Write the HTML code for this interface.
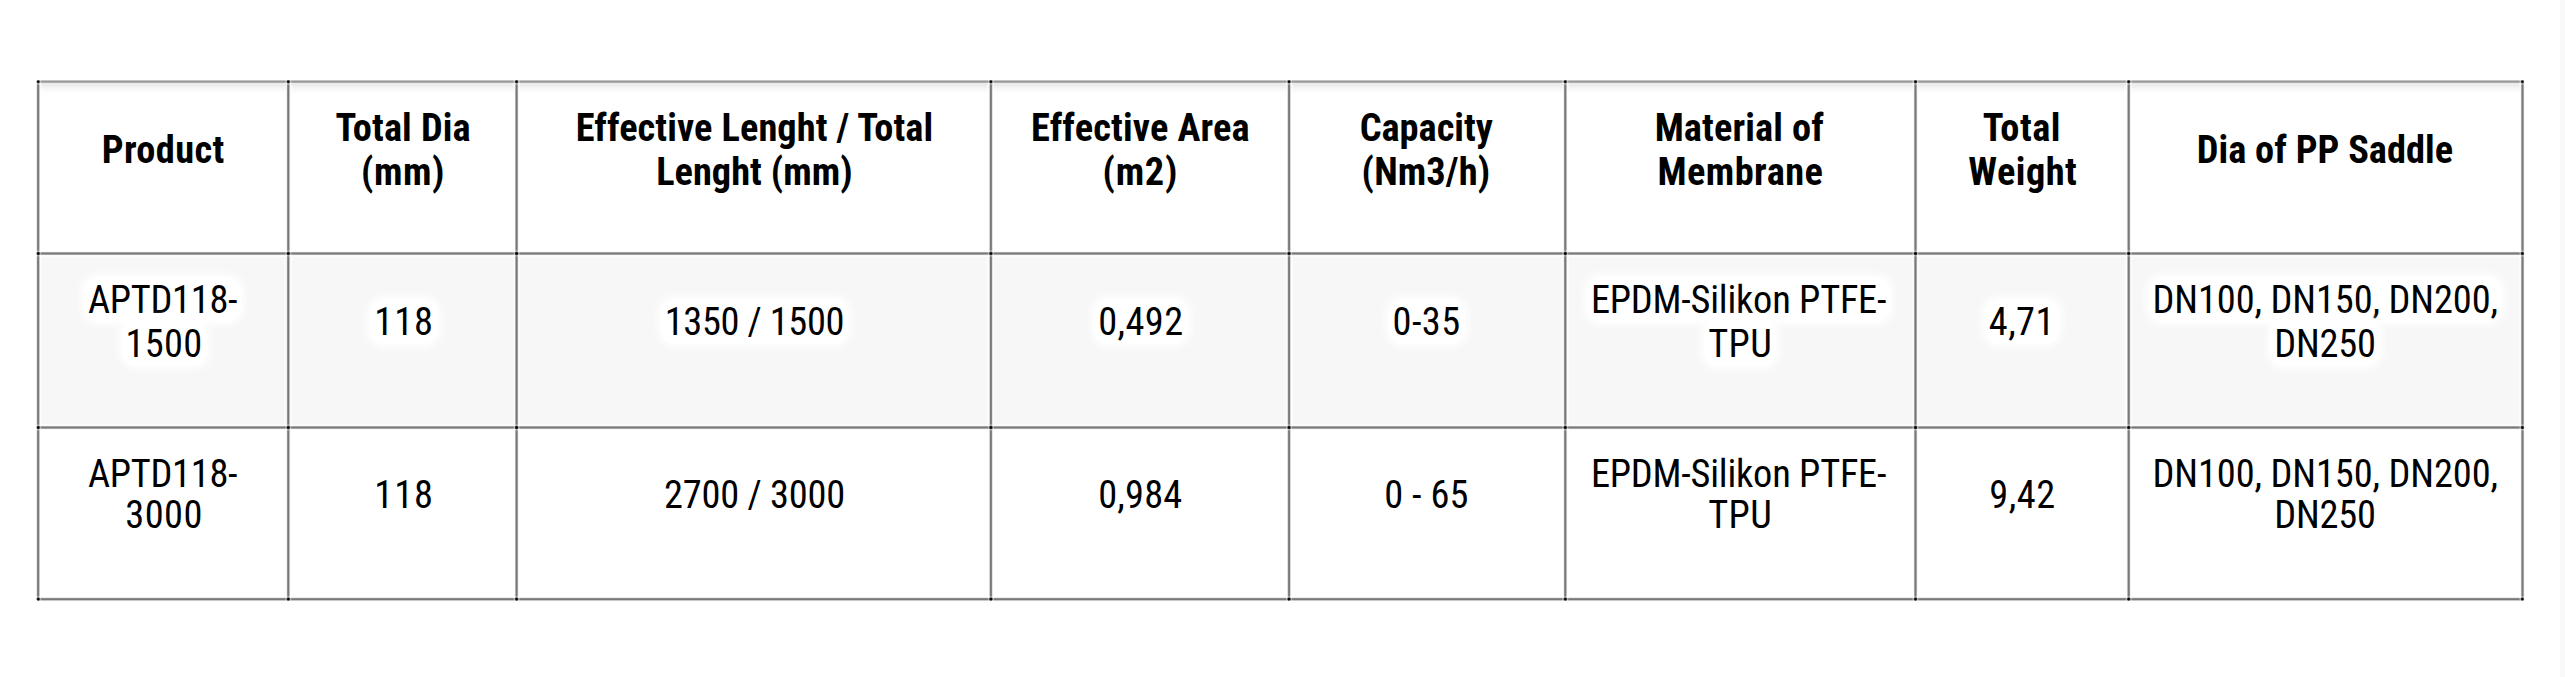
<!DOCTYPE html>
<html><head><meta charset="utf-8"><title>Product table</title>
<style>
html,body{margin:0;padding:0;background:#fff;}
body{width:2565px;height:677px;position:relative;overflow:hidden;font-family:"Roboto Condensed","Liberation Sans",sans-serif;color:#000;}
.strip{position:absolute;left:2560px;top:0;width:5px;height:677px;background:#f9f9f9;}
.bg1{position:absolute;background:#f7f7f7;box-shadow:inset 0 0 2px 1.5px #fff;}
.hsh{position:absolute;filter:blur(0.8px);background:linear-gradient(to bottom,#e6e6e6 0,#efefef 3px,#f8f8f8 6px,#fdfdfd 9px,rgba(255,255,255,0) 12px);}
.v,.h{position:absolute;}
.dot{position:absolute;width:9px;height:9px;}
.c{position:absolute;text-align:center;white-space:nowrap;font-size:38.4px;}
.c span{position:relative;}
.th{font-weight:700;line-height:44px;}
.td{font-weight:400;}
.r1{line-height:44px;}
.r2{line-height:41px;}
.nf .c{font-family:"Liberation Sans","DejaVu Sans",sans-serif;}
.nf .c span{display:inline-block;transform:scaleX(.87);}
.r1 span{background:#fff;padding:0 4px;margin:0 -4px;border-radius:14px;box-shadow:0 0 9px 3px #fff;}
</style></head><body>
<div class="strip"></div>

<div class="bg1" style="left:39.65px;top:255.00px;width:247.15px;height:171.00px"></div>
<div class="bg1" style="left:289.80px;top:255.00px;width:225.30px;height:171.00px"></div>
<div class="bg1" style="left:518.10px;top:255.00px;width:471.30px;height:171.00px"></div>
<div class="bg1" style="left:992.40px;top:255.00px;width:295.15px;height:171.00px"></div>
<div class="bg1" style="left:1290.55px;top:255.00px;width:273.25px;height:171.00px"></div>
<div class="bg1" style="left:1566.80px;top:255.00px;width:347.20px;height:171.00px"></div>
<div class="bg1" style="left:1917.00px;top:255.00px;width:210.20px;height:171.00px"></div>
<div class="bg1" style="left:2130.20px;top:255.00px;width:390.80px;height:171.00px"></div>
<div class="hsh" style="left:40.65px;top:83.10px;width:245.15px;height:12px"></div>
<div class="hsh" style="left:290.80px;top:83.10px;width:223.30px;height:12px"></div>
<div class="hsh" style="left:519.10px;top:83.10px;width:469.30px;height:12px"></div>
<div class="hsh" style="left:993.40px;top:83.10px;width:293.15px;height:12px"></div>
<div class="hsh" style="left:1291.55px;top:83.10px;width:271.25px;height:12px"></div>
<div class="hsh" style="left:1567.80px;top:83.10px;width:345.20px;height:12px"></div>
<div class="hsh" style="left:1918.00px;top:83.10px;width:208.20px;height:12px"></div>
<div class="hsh" style="left:2131.20px;top:83.10px;width:388.80px;height:12px"></div>
<div class="v" style="left:35px;top:81.6px;width:7px;height:517.6px;background:linear-gradient(to right,rgba(0,0,0,0.000) 0.00px,rgba(0,0,0,0.000) 0.25px,rgba(0,0,0,0.000) 0.50px,rgba(0,0,0,0.002) 0.75px,rgba(0,0,0,0.009) 1.00px,rgba(0,0,0,0.033) 1.25px,rgba(0,0,0,0.085) 1.50px,rgba(0,0,0,0.174) 1.75px,rgba(0,0,0,0.286) 2.00px,rgba(0,0,0,0.394) 2.25px,rgba(0,0,0,0.474) 2.50px,rgba(0,0,0,0.516) 2.75px,rgba(0,0,0,0.529) 3.00px,rgba(0,0,0,0.530) 3.25px,rgba(0,0,0,0.521) 3.50px,rgba(0,0,0,0.485) 3.75px,rgba(0,0,0,0.413) 4.00px,rgba(0,0,0,0.309) 4.25px,rgba(0,0,0,0.195) 4.50px,rgba(0,0,0,0.100) 4.75px,rgba(0,0,0,0.040) 5.00px,rgba(0,0,0,0.012) 5.25px,rgba(0,0,0,0.003) 5.50px,rgba(0,0,0,0.000) 5.75px,rgba(0,0,0,0.000) 6.00px,rgba(0,0,0,0.000) 6.25px,rgba(0,0,0,0.000) 6.50px,rgba(0,0,0,0.000) 6.75px,rgba(0,0,0,0.000) 7.00px)"></div>
<div class="v" style="left:285px;top:81.6px;width:7px;height:517.6px;background:linear-gradient(to right,rgba(0,0,0,0.000) 0.00px,rgba(0,0,0,0.000) 0.25px,rgba(0,0,0,0.000) 0.50px,rgba(0,0,0,0.001) 0.75px,rgba(0,0,0,0.004) 1.00px,rgba(0,0,0,0.016) 1.25px,rgba(0,0,0,0.050) 1.50px,rgba(0,0,0,0.117) 1.75px,rgba(0,0,0,0.217) 2.00px,rgba(0,0,0,0.331) 2.25px,rgba(0,0,0,0.430) 2.50px,rgba(0,0,0,0.495) 2.75px,rgba(0,0,0,0.524) 3.00px,rgba(0,0,0,0.530) 3.25px,rgba(0,0,0,0.528) 3.50px,rgba(0,0,0,0.511) 3.75px,rgba(0,0,0,0.461) 4.00px,rgba(0,0,0,0.374) 4.25px,rgba(0,0,0,0.263) 4.50px,rgba(0,0,0,0.154) 4.75px,rgba(0,0,0,0.072) 5.00px,rgba(0,0,0,0.026) 5.25px,rgba(0,0,0,0.007) 5.50px,rgba(0,0,0,0.001) 5.75px,rgba(0,0,0,0.000) 6.00px,rgba(0,0,0,0.000) 6.25px,rgba(0,0,0,0.000) 6.50px,rgba(0,0,0,0.000) 6.75px,rgba(0,0,0,0.000) 7.00px)"></div>
<div class="v" style="left:513px;top:81.6px;width:7px;height:517.6px;background:linear-gradient(to right,rgba(0,0,0,0.000) 0.00px,rgba(0,0,0,0.000) 0.25px,rgba(0,0,0,0.000) 0.50px,rgba(0,0,0,0.000) 0.75px,rgba(0,0,0,0.000) 1.00px,rgba(0,0,0,0.003) 1.25px,rgba(0,0,0,0.012) 1.50px,rgba(0,0,0,0.040) 1.75px,rgba(0,0,0,0.100) 2.00px,rgba(0,0,0,0.195) 2.25px,rgba(0,0,0,0.309) 2.50px,rgba(0,0,0,0.413) 2.75px,rgba(0,0,0,0.485) 3.00px,rgba(0,0,0,0.521) 3.25px,rgba(0,0,0,0.530) 3.50px,rgba(0,0,0,0.529) 3.75px,rgba(0,0,0,0.516) 4.00px,rgba(0,0,0,0.474) 4.25px,rgba(0,0,0,0.394) 4.50px,rgba(0,0,0,0.286) 4.75px,rgba(0,0,0,0.174) 5.00px,rgba(0,0,0,0.085) 5.25px,rgba(0,0,0,0.033) 5.50px,rgba(0,0,0,0.009) 5.75px,rgba(0,0,0,0.002) 6.00px,rgba(0,0,0,0.000) 6.25px,rgba(0,0,0,0.000) 6.50px,rgba(0,0,0,0.000) 6.75px,rgba(0,0,0,0.000) 7.00px)"></div>
<div class="v" style="left:987px;top:81.6px;width:7px;height:517.6px;background:linear-gradient(to right,rgba(0,0,0,0.000) 0.00px,rgba(0,0,0,0.000) 0.25px,rgba(0,0,0,0.000) 0.50px,rgba(0,0,0,0.000) 0.75px,rgba(0,0,0,0.000) 1.00px,rgba(0,0,0,0.000) 1.25px,rgba(0,0,0,0.002) 1.50px,rgba(0,0,0,0.009) 1.75px,rgba(0,0,0,0.033) 2.00px,rgba(0,0,0,0.085) 2.25px,rgba(0,0,0,0.174) 2.50px,rgba(0,0,0,0.286) 2.75px,rgba(0,0,0,0.394) 3.00px,rgba(0,0,0,0.474) 3.25px,rgba(0,0,0,0.516) 3.50px,rgba(0,0,0,0.529) 3.75px,rgba(0,0,0,0.530) 4.00px,rgba(0,0,0,0.521) 4.25px,rgba(0,0,0,0.485) 4.50px,rgba(0,0,0,0.413) 4.75px,rgba(0,0,0,0.309) 5.00px,rgba(0,0,0,0.195) 5.25px,rgba(0,0,0,0.100) 5.50px,rgba(0,0,0,0.040) 5.75px,rgba(0,0,0,0.012) 6.00px,rgba(0,0,0,0.003) 6.25px,rgba(0,0,0,0.000) 6.50px,rgba(0,0,0,0.000) 6.75px,rgba(0,0,0,0.000) 7.00px)"></div>
<div class="v" style="left:1286px;top:81.6px;width:7px;height:517.6px;background:linear-gradient(to right,rgba(0,0,0,0.000) 0.00px,rgba(0,0,0,0.000) 0.25px,rgba(0,0,0,0.001) 0.50px,rgba(0,0,0,0.004) 0.75px,rgba(0,0,0,0.016) 1.00px,rgba(0,0,0,0.050) 1.25px,rgba(0,0,0,0.117) 1.50px,rgba(0,0,0,0.217) 1.75px,rgba(0,0,0,0.331) 2.00px,rgba(0,0,0,0.430) 2.25px,rgba(0,0,0,0.495) 2.50px,rgba(0,0,0,0.524) 2.75px,rgba(0,0,0,0.530) 3.00px,rgba(0,0,0,0.528) 3.25px,rgba(0,0,0,0.511) 3.50px,rgba(0,0,0,0.461) 3.75px,rgba(0,0,0,0.374) 4.00px,rgba(0,0,0,0.263) 4.25px,rgba(0,0,0,0.154) 4.50px,rgba(0,0,0,0.072) 4.75px,rgba(0,0,0,0.026) 5.00px,rgba(0,0,0,0.007) 5.25px,rgba(0,0,0,0.001) 5.50px,rgba(0,0,0,0.000) 5.75px,rgba(0,0,0,0.000) 6.00px,rgba(0,0,0,0.000) 6.25px,rgba(0,0,0,0.000) 6.50px,rgba(0,0,0,0.000) 6.75px,rgba(0,0,0,0.000) 7.00px)"></div>
<div class="v" style="left:1562px;top:81.6px;width:7px;height:517.6px;background:linear-gradient(to right,rgba(0,0,0,0.000) 0.00px,rgba(0,0,0,0.000) 0.25px,rgba(0,0,0,0.000) 0.50px,rgba(0,0,0,0.001) 0.75px,rgba(0,0,0,0.004) 1.00px,rgba(0,0,0,0.016) 1.25px,rgba(0,0,0,0.050) 1.50px,rgba(0,0,0,0.117) 1.75px,rgba(0,0,0,0.217) 2.00px,rgba(0,0,0,0.331) 2.25px,rgba(0,0,0,0.430) 2.50px,rgba(0,0,0,0.495) 2.75px,rgba(0,0,0,0.524) 3.00px,rgba(0,0,0,0.530) 3.25px,rgba(0,0,0,0.528) 3.50px,rgba(0,0,0,0.511) 3.75px,rgba(0,0,0,0.461) 4.00px,rgba(0,0,0,0.374) 4.25px,rgba(0,0,0,0.263) 4.50px,rgba(0,0,0,0.154) 4.75px,rgba(0,0,0,0.072) 5.00px,rgba(0,0,0,0.026) 5.25px,rgba(0,0,0,0.007) 5.50px,rgba(0,0,0,0.001) 5.75px,rgba(0,0,0,0.000) 6.00px,rgba(0,0,0,0.000) 6.25px,rgba(0,0,0,0.000) 6.50px,rgba(0,0,0,0.000) 6.75px,rgba(0,0,0,0.000) 7.00px)"></div>
<div class="v" style="left:1912px;top:81.6px;width:7px;height:517.6px;background:linear-gradient(to right,rgba(0,0,0,0.000) 0.00px,rgba(0,0,0,0.000) 0.25px,rgba(0,0,0,0.000) 0.50px,rgba(0,0,0,0.000) 0.75px,rgba(0,0,0,0.001) 1.00px,rgba(0,0,0,0.005) 1.25px,rgba(0,0,0,0.021) 1.50px,rgba(0,0,0,0.060) 1.75px,rgba(0,0,0,0.134) 2.00px,rgba(0,0,0,0.240) 2.25px,rgba(0,0,0,0.353) 2.50px,rgba(0,0,0,0.446) 2.75px,rgba(0,0,0,0.504) 3.00px,rgba(0,0,0,0.527) 3.25px,rgba(0,0,0,0.530) 3.50px,rgba(0,0,0,0.527) 3.75px,rgba(0,0,0,0.504) 4.00px,rgba(0,0,0,0.446) 4.25px,rgba(0,0,0,0.353) 4.50px,rgba(0,0,0,0.240) 4.75px,rgba(0,0,0,0.134) 5.00px,rgba(0,0,0,0.060) 5.25px,rgba(0,0,0,0.021) 5.50px,rgba(0,0,0,0.005) 5.75px,rgba(0,0,0,0.001) 6.00px,rgba(0,0,0,0.000) 6.25px,rgba(0,0,0,0.000) 6.50px,rgba(0,0,0,0.000) 6.75px,rgba(0,0,0,0.000) 7.00px)"></div>
<div class="v" style="left:2125px;top:81.6px;width:7px;height:517.6px;background:linear-gradient(to right,rgba(0,0,0,0.000) 0.00px,rgba(0,0,0,0.000) 0.25px,rgba(0,0,0,0.000) 0.50px,rgba(0,0,0,0.000) 0.75px,rgba(0,0,0,0.000) 1.00px,rgba(0,0,0,0.001) 1.25px,rgba(0,0,0,0.007) 1.50px,rgba(0,0,0,0.026) 1.75px,rgba(0,0,0,0.072) 2.00px,rgba(0,0,0,0.154) 2.25px,rgba(0,0,0,0.263) 2.50px,rgba(0,0,0,0.374) 2.75px,rgba(0,0,0,0.461) 3.00px,rgba(0,0,0,0.511) 3.25px,rgba(0,0,0,0.528) 3.50px,rgba(0,0,0,0.530) 3.75px,rgba(0,0,0,0.524) 4.00px,rgba(0,0,0,0.495) 4.25px,rgba(0,0,0,0.430) 4.50px,rgba(0,0,0,0.331) 4.75px,rgba(0,0,0,0.217) 5.00px,rgba(0,0,0,0.117) 5.25px,rgba(0,0,0,0.050) 5.50px,rgba(0,0,0,0.016) 5.75px,rgba(0,0,0,0.004) 6.00px,rgba(0,0,0,0.001) 6.25px,rgba(0,0,0,0.000) 6.50px,rgba(0,0,0,0.000) 6.75px,rgba(0,0,0,0.000) 7.00px)"></div>
<div class="v" style="left:2519px;top:81.6px;width:7px;height:517.6px;background:linear-gradient(to right,rgba(0,0,0,0.000) 0.00px,rgba(0,0,0,0.000) 0.25px,rgba(0,0,0,0.000) 0.50px,rgba(0,0,0,0.000) 0.75px,rgba(0,0,0,0.001) 1.00px,rgba(0,0,0,0.005) 1.25px,rgba(0,0,0,0.021) 1.50px,rgba(0,0,0,0.060) 1.75px,rgba(0,0,0,0.134) 2.00px,rgba(0,0,0,0.240) 2.25px,rgba(0,0,0,0.353) 2.50px,rgba(0,0,0,0.446) 2.75px,rgba(0,0,0,0.504) 3.00px,rgba(0,0,0,0.527) 3.25px,rgba(0,0,0,0.530) 3.50px,rgba(0,0,0,0.527) 3.75px,rgba(0,0,0,0.504) 4.00px,rgba(0,0,0,0.446) 4.25px,rgba(0,0,0,0.353) 4.50px,rgba(0,0,0,0.240) 4.75px,rgba(0,0,0,0.134) 5.00px,rgba(0,0,0,0.060) 5.25px,rgba(0,0,0,0.021) 5.50px,rgba(0,0,0,0.005) 5.75px,rgba(0,0,0,0.001) 6.00px,rgba(0,0,0,0.000) 6.25px,rgba(0,0,0,0.000) 6.50px,rgba(0,0,0,0.000) 6.75px,rgba(0,0,0,0.000) 7.00px)"></div>
<div class="h" style="left:38.1px;top:78px;width:2484.3px;height:7px;background:linear-gradient(to bottom,rgba(0,0,0,0.000) 0.00px,rgba(0,0,0,0.000) 0.25px,rgba(0,0,0,0.000) 0.50px,rgba(0,0,0,0.000) 0.75px,rgba(0,0,0,0.000) 1.00px,rgba(0,0,0,0.002) 1.25px,rgba(0,0,0,0.009) 1.50px,rgba(0,0,0,0.031) 1.75px,rgba(0,0,0,0.076) 2.00px,rgba(0,0,0,0.147) 2.25px,rgba(0,0,0,0.233) 2.50px,rgba(0,0,0,0.312) 2.75px,rgba(0,0,0,0.366) 3.00px,rgba(0,0,0,0.393) 3.25px,rgba(0,0,0,0.400) 3.50px,rgba(0,0,0,0.399) 3.75px,rgba(0,0,0,0.390) 4.00px,rgba(0,0,0,0.358) 4.25px,rgba(0,0,0,0.297) 4.50px,rgba(0,0,0,0.216) 4.75px,rgba(0,0,0,0.131) 5.00px,rgba(0,0,0,0.064) 5.25px,rgba(0,0,0,0.025) 5.50px,rgba(0,0,0,0.007) 5.75px,rgba(0,0,0,0.001) 6.00px,rgba(0,0,0,0.000) 6.25px,rgba(0,0,0,0.000) 6.50px,rgba(0,0,0,0.000) 6.75px,rgba(0,0,0,0.000) 7.00px)"></div>
<div class="h" style="left:38.1px;top:250px;width:2484.3px;height:7px;background:linear-gradient(to bottom,rgba(0,0,0,0.000) 0.00px,rgba(0,0,0,0.000) 0.25px,rgba(0,0,0,0.000) 0.50px,rgba(0,0,0,0.000) 0.75px,rgba(0,0,0,0.001) 1.00px,rgba(0,0,0,0.005) 1.25px,rgba(0,0,0,0.021) 1.50px,rgba(0,0,0,0.060) 1.75px,rgba(0,0,0,0.134) 2.00px,rgba(0,0,0,0.240) 2.25px,rgba(0,0,0,0.353) 2.50px,rgba(0,0,0,0.446) 2.75px,rgba(0,0,0,0.504) 3.00px,rgba(0,0,0,0.527) 3.25px,rgba(0,0,0,0.530) 3.50px,rgba(0,0,0,0.527) 3.75px,rgba(0,0,0,0.504) 4.00px,rgba(0,0,0,0.446) 4.25px,rgba(0,0,0,0.353) 4.50px,rgba(0,0,0,0.240) 4.75px,rgba(0,0,0,0.134) 5.00px,rgba(0,0,0,0.060) 5.25px,rgba(0,0,0,0.021) 5.50px,rgba(0,0,0,0.005) 5.75px,rgba(0,0,0,0.001) 6.00px,rgba(0,0,0,0.000) 6.25px,rgba(0,0,0,0.000) 6.50px,rgba(0,0,0,0.000) 6.75px,rgba(0,0,0,0.000) 7.00px)"></div>
<div class="h" style="left:38.1px;top:424px;width:2484.3px;height:7px;background:linear-gradient(to bottom,rgba(0,0,0,0.000) 0.00px,rgba(0,0,0,0.000) 0.25px,rgba(0,0,0,0.000) 0.50px,rgba(0,0,0,0.000) 0.75px,rgba(0,0,0,0.001) 1.00px,rgba(0,0,0,0.005) 1.25px,rgba(0,0,0,0.021) 1.50px,rgba(0,0,0,0.060) 1.75px,rgba(0,0,0,0.134) 2.00px,rgba(0,0,0,0.240) 2.25px,rgba(0,0,0,0.353) 2.50px,rgba(0,0,0,0.446) 2.75px,rgba(0,0,0,0.504) 3.00px,rgba(0,0,0,0.527) 3.25px,rgba(0,0,0,0.530) 3.50px,rgba(0,0,0,0.527) 3.75px,rgba(0,0,0,0.504) 4.00px,rgba(0,0,0,0.446) 4.25px,rgba(0,0,0,0.353) 4.50px,rgba(0,0,0,0.240) 4.75px,rgba(0,0,0,0.134) 5.00px,rgba(0,0,0,0.060) 5.25px,rgba(0,0,0,0.021) 5.50px,rgba(0,0,0,0.005) 5.75px,rgba(0,0,0,0.001) 6.00px,rgba(0,0,0,0.000) 6.25px,rgba(0,0,0,0.000) 6.50px,rgba(0,0,0,0.000) 6.75px,rgba(0,0,0,0.000) 7.00px)"></div>
<div class="h" style="left:38.1px;top:596px;width:2484.3px;height:7px;background:linear-gradient(to bottom,rgba(0,0,0,0.000) 0.00px,rgba(0,0,0,0.000) 0.25px,rgba(0,0,0,0.000) 0.50px,rgba(0,0,0,0.001) 0.75px,rgba(0,0,0,0.007) 1.00px,rgba(0,0,0,0.026) 1.25px,rgba(0,0,0,0.072) 1.50px,rgba(0,0,0,0.154) 1.75px,rgba(0,0,0,0.263) 2.00px,rgba(0,0,0,0.374) 2.25px,rgba(0,0,0,0.461) 2.50px,rgba(0,0,0,0.511) 2.75px,rgba(0,0,0,0.528) 3.00px,rgba(0,0,0,0.530) 3.25px,rgba(0,0,0,0.524) 3.50px,rgba(0,0,0,0.495) 3.75px,rgba(0,0,0,0.430) 4.00px,rgba(0,0,0,0.331) 4.25px,rgba(0,0,0,0.217) 4.50px,rgba(0,0,0,0.117) 4.75px,rgba(0,0,0,0.050) 5.00px,rgba(0,0,0,0.016) 5.25px,rgba(0,0,0,0.004) 5.50px,rgba(0,0,0,0.001) 5.75px,rgba(0,0,0,0.000) 6.00px,rgba(0,0,0,0.000) 6.25px,rgba(0,0,0,0.000) 6.50px,rgba(0,0,0,0.000) 6.75px,rgba(0,0,0,0.000) 7.00px)"></div>
<div class="dot" style="left:34px;top:77px;background:radial-gradient(circle 3.6px at 4.15px 4.60px,#000 0,#000 0.6px,rgba(0,0,0,.45) 1.4px,rgba(255,255,255,.38) 2.1px,rgba(255,255,255,.38) 2.6px,rgba(255,255,255,0) 3.6px)"></div>
<div class="dot" style="left:34px;top:249px;background:radial-gradient(circle 3.6px at 4.15px 4.50px,#000 0,#000 0.6px,rgba(0,0,0,.45) 1.4px,rgba(255,255,255,.38) 2.1px,rgba(255,255,255,.38) 2.6px,rgba(255,255,255,0) 3.6px)"></div>
<div class="dot" style="left:34px;top:423px;background:radial-gradient(circle 3.6px at 4.15px 4.50px,#000 0,#000 0.6px,rgba(0,0,0,.45) 1.4px,rgba(255,255,255,.38) 2.1px,rgba(255,255,255,.38) 2.6px,rgba(255,255,255,0) 3.6px)"></div>
<div class="dot" style="left:34px;top:595px;background:radial-gradient(circle 3.6px at 4.15px 4.20px,#000 0,#000 0.6px,rgba(0,0,0,.45) 1.4px,rgba(255,255,255,.38) 2.1px,rgba(255,255,255,.38) 2.6px,rgba(255,255,255,0) 3.6px)"></div>
<div class="dot" style="left:284px;top:77px;background:radial-gradient(circle 3.6px at 4.30px 4.60px,#000 0,#000 0.6px,rgba(0,0,0,.45) 1.4px,rgba(255,255,255,.38) 2.1px,rgba(255,255,255,.38) 2.6px,rgba(255,255,255,0) 3.6px)"></div>
<div class="dot" style="left:284px;top:249px;background:radial-gradient(circle 3.6px at 4.30px 4.50px,#000 0,#000 0.6px,rgba(0,0,0,.45) 1.4px,rgba(255,255,255,.38) 2.1px,rgba(255,255,255,.38) 2.6px,rgba(255,255,255,0) 3.6px)"></div>
<div class="dot" style="left:284px;top:423px;background:radial-gradient(circle 3.6px at 4.30px 4.50px,#000 0,#000 0.6px,rgba(0,0,0,.45) 1.4px,rgba(255,255,255,.38) 2.1px,rgba(255,255,255,.38) 2.6px,rgba(255,255,255,0) 3.6px)"></div>
<div class="dot" style="left:284px;top:595px;background:radial-gradient(circle 3.6px at 4.30px 4.20px,#000 0,#000 0.6px,rgba(0,0,0,.45) 1.4px,rgba(255,255,255,.38) 2.1px,rgba(255,255,255,.38) 2.6px,rgba(255,255,255,0) 3.6px)"></div>
<div class="dot" style="left:512px;top:77px;background:radial-gradient(circle 3.6px at 4.60px 4.60px,#000 0,#000 0.6px,rgba(0,0,0,.45) 1.4px,rgba(255,255,255,.38) 2.1px,rgba(255,255,255,.38) 2.6px,rgba(255,255,255,0) 3.6px)"></div>
<div class="dot" style="left:512px;top:249px;background:radial-gradient(circle 3.6px at 4.60px 4.50px,#000 0,#000 0.6px,rgba(0,0,0,.45) 1.4px,rgba(255,255,255,.38) 2.1px,rgba(255,255,255,.38) 2.6px,rgba(255,255,255,0) 3.6px)"></div>
<div class="dot" style="left:512px;top:423px;background:radial-gradient(circle 3.6px at 4.60px 4.50px,#000 0,#000 0.6px,rgba(0,0,0,.45) 1.4px,rgba(255,255,255,.38) 2.1px,rgba(255,255,255,.38) 2.6px,rgba(255,255,255,0) 3.6px)"></div>
<div class="dot" style="left:512px;top:595px;background:radial-gradient(circle 3.6px at 4.60px 4.20px,#000 0,#000 0.6px,rgba(0,0,0,.45) 1.4px,rgba(255,255,255,.38) 2.1px,rgba(255,255,255,.38) 2.6px,rgba(255,255,255,0) 3.6px)"></div>
<div class="dot" style="left:986px;top:77px;background:radial-gradient(circle 3.6px at 4.90px 4.60px,#000 0,#000 0.6px,rgba(0,0,0,.45) 1.4px,rgba(255,255,255,.38) 2.1px,rgba(255,255,255,.38) 2.6px,rgba(255,255,255,0) 3.6px)"></div>
<div class="dot" style="left:986px;top:249px;background:radial-gradient(circle 3.6px at 4.90px 4.50px,#000 0,#000 0.6px,rgba(0,0,0,.45) 1.4px,rgba(255,255,255,.38) 2.1px,rgba(255,255,255,.38) 2.6px,rgba(255,255,255,0) 3.6px)"></div>
<div class="dot" style="left:986px;top:423px;background:radial-gradient(circle 3.6px at 4.90px 4.50px,#000 0,#000 0.6px,rgba(0,0,0,.45) 1.4px,rgba(255,255,255,.38) 2.1px,rgba(255,255,255,.38) 2.6px,rgba(255,255,255,0) 3.6px)"></div>
<div class="dot" style="left:986px;top:595px;background:radial-gradient(circle 3.6px at 4.90px 4.20px,#000 0,#000 0.6px,rgba(0,0,0,.45) 1.4px,rgba(255,255,255,.38) 2.1px,rgba(255,255,255,.38) 2.6px,rgba(255,255,255,0) 3.6px)"></div>
<div class="dot" style="left:1285px;top:77px;background:radial-gradient(circle 3.6px at 4.05px 4.60px,#000 0,#000 0.6px,rgba(0,0,0,.45) 1.4px,rgba(255,255,255,.38) 2.1px,rgba(255,255,255,.38) 2.6px,rgba(255,255,255,0) 3.6px)"></div>
<div class="dot" style="left:1285px;top:249px;background:radial-gradient(circle 3.6px at 4.05px 4.50px,#000 0,#000 0.6px,rgba(0,0,0,.45) 1.4px,rgba(255,255,255,.38) 2.1px,rgba(255,255,255,.38) 2.6px,rgba(255,255,255,0) 3.6px)"></div>
<div class="dot" style="left:1285px;top:423px;background:radial-gradient(circle 3.6px at 4.05px 4.50px,#000 0,#000 0.6px,rgba(0,0,0,.45) 1.4px,rgba(255,255,255,.38) 2.1px,rgba(255,255,255,.38) 2.6px,rgba(255,255,255,0) 3.6px)"></div>
<div class="dot" style="left:1285px;top:595px;background:radial-gradient(circle 3.6px at 4.05px 4.20px,#000 0,#000 0.6px,rgba(0,0,0,.45) 1.4px,rgba(255,255,255,.38) 2.1px,rgba(255,255,255,.38) 2.6px,rgba(255,255,255,0) 3.6px)"></div>
<div class="dot" style="left:1561px;top:77px;background:radial-gradient(circle 3.6px at 4.30px 4.60px,#000 0,#000 0.6px,rgba(0,0,0,.45) 1.4px,rgba(255,255,255,.38) 2.1px,rgba(255,255,255,.38) 2.6px,rgba(255,255,255,0) 3.6px)"></div>
<div class="dot" style="left:1561px;top:249px;background:radial-gradient(circle 3.6px at 4.30px 4.50px,#000 0,#000 0.6px,rgba(0,0,0,.45) 1.4px,rgba(255,255,255,.38) 2.1px,rgba(255,255,255,.38) 2.6px,rgba(255,255,255,0) 3.6px)"></div>
<div class="dot" style="left:1561px;top:423px;background:radial-gradient(circle 3.6px at 4.30px 4.50px,#000 0,#000 0.6px,rgba(0,0,0,.45) 1.4px,rgba(255,255,255,.38) 2.1px,rgba(255,255,255,.38) 2.6px,rgba(255,255,255,0) 3.6px)"></div>
<div class="dot" style="left:1561px;top:595px;background:radial-gradient(circle 3.6px at 4.30px 4.20px,#000 0,#000 0.6px,rgba(0,0,0,.45) 1.4px,rgba(255,255,255,.38) 2.1px,rgba(255,255,255,.38) 2.6px,rgba(255,255,255,0) 3.6px)"></div>
<div class="dot" style="left:1911px;top:77px;background:radial-gradient(circle 3.6px at 4.50px 4.60px,#000 0,#000 0.6px,rgba(0,0,0,.45) 1.4px,rgba(255,255,255,.38) 2.1px,rgba(255,255,255,.38) 2.6px,rgba(255,255,255,0) 3.6px)"></div>
<div class="dot" style="left:1911px;top:249px;background:radial-gradient(circle 3.6px at 4.50px 4.50px,#000 0,#000 0.6px,rgba(0,0,0,.45) 1.4px,rgba(255,255,255,.38) 2.1px,rgba(255,255,255,.38) 2.6px,rgba(255,255,255,0) 3.6px)"></div>
<div class="dot" style="left:1911px;top:423px;background:radial-gradient(circle 3.6px at 4.50px 4.50px,#000 0,#000 0.6px,rgba(0,0,0,.45) 1.4px,rgba(255,255,255,.38) 2.1px,rgba(255,255,255,.38) 2.6px,rgba(255,255,255,0) 3.6px)"></div>
<div class="dot" style="left:1911px;top:595px;background:radial-gradient(circle 3.6px at 4.50px 4.20px,#000 0,#000 0.6px,rgba(0,0,0,.45) 1.4px,rgba(255,255,255,.38) 2.1px,rgba(255,255,255,.38) 2.6px,rgba(255,255,255,0) 3.6px)"></div>
<div class="dot" style="left:2124px;top:77px;background:radial-gradient(circle 3.6px at 4.70px 4.60px,#000 0,#000 0.6px,rgba(0,0,0,.45) 1.4px,rgba(255,255,255,.38) 2.1px,rgba(255,255,255,.38) 2.6px,rgba(255,255,255,0) 3.6px)"></div>
<div class="dot" style="left:2124px;top:249px;background:radial-gradient(circle 3.6px at 4.70px 4.50px,#000 0,#000 0.6px,rgba(0,0,0,.45) 1.4px,rgba(255,255,255,.38) 2.1px,rgba(255,255,255,.38) 2.6px,rgba(255,255,255,0) 3.6px)"></div>
<div class="dot" style="left:2124px;top:423px;background:radial-gradient(circle 3.6px at 4.70px 4.50px,#000 0,#000 0.6px,rgba(0,0,0,.45) 1.4px,rgba(255,255,255,.38) 2.1px,rgba(255,255,255,.38) 2.6px,rgba(255,255,255,0) 3.6px)"></div>
<div class="dot" style="left:2124px;top:595px;background:radial-gradient(circle 3.6px at 4.70px 4.20px,#000 0,#000 0.6px,rgba(0,0,0,.45) 1.4px,rgba(255,255,255,.38) 2.1px,rgba(255,255,255,.38) 2.6px,rgba(255,255,255,0) 3.6px)"></div>
<div class="dot" style="left:2518px;top:77px;background:radial-gradient(circle 3.6px at 4.50px 4.60px,#000 0,#000 0.6px,rgba(0,0,0,.45) 1.4px,rgba(255,255,255,.38) 2.1px,rgba(255,255,255,.38) 2.6px,rgba(255,255,255,0) 3.6px)"></div>
<div class="dot" style="left:2518px;top:249px;background:radial-gradient(circle 3.6px at 4.50px 4.50px,#000 0,#000 0.6px,rgba(0,0,0,.45) 1.4px,rgba(255,255,255,.38) 2.1px,rgba(255,255,255,.38) 2.6px,rgba(255,255,255,0) 3.6px)"></div>
<div class="dot" style="left:2518px;top:423px;background:radial-gradient(circle 3.6px at 4.50px 4.50px,#000 0,#000 0.6px,rgba(0,0,0,.45) 1.4px,rgba(255,255,255,.38) 2.1px,rgba(255,255,255,.38) 2.6px,rgba(255,255,255,0) 3.6px)"></div>
<div class="dot" style="left:2518px;top:595px;background:radial-gradient(circle 3.6px at 4.50px 4.20px,#000 0,#000 0.6px,rgba(0,0,0,.45) 1.4px,rgba(255,255,255,.38) 2.1px,rgba(255,255,255,.38) 2.6px,rgba(255,255,255,0) 3.6px)"></div>
<div class="c th" style="left:38.15px;top:127.75px;width:250.15px"><span style="letter-spacing:0.39px;">Product</span></div>
<div class="c th" style="left:288.30px;top:106.10px;width:228.30px"><span style="letter-spacing:0.14px;left:0.77px;">Total Dia</span><br><span style="letter-spacing:0.53px;left:0.47px;">(mm)</span></div>
<div class="c th" style="left:516.60px;top:106.10px;width:474.30px"><span style="letter-spacing:0.09px;left:0.75px;">Effective Lenght / Total</span><br><span style="letter-spacing:0.02px;left:0.68px;">Lenght (mm)</span></div>
<div class="c th" style="left:990.90px;top:106.10px;width:298.15px"><span style="letter-spacing:0.16px;left:0.46px;">Effective Area</span><br><span style="letter-spacing:0.69px;left:0.34px;">(m2)</span></div>
<div class="c th" style="left:1289.05px;top:106.10px;width:276.25px"><span style="left:-0.90px;">Capacity</span><br><span style="letter-spacing:0.11px;left:-1.24px;">(Nm3/h)</span></div>
<div class="c th" style="left:1565.30px;top:106.10px;width:350.20px"><span style="letter-spacing:0.11px;left:-1.13px;">Material of</span><br><span style="letter-spacing:0.40px;">Membrane</span></div>
<div class="c th" style="left:1915.50px;top:106.10px;width:213.20px"><span style="letter-spacing:0.50px;left:-0.20px;">Total</span><br><span style="letter-spacing:0.45px;left:0.71px;">Weight</span></div>
<div class="c th" style="left:2128.70px;top:127.75px;width:393.80px"><span style="left:-0.66px;">Dia of PP Saddle</span></div>
<div class="c td r1" style="left:38.15px;top:277.60px;width:250.15px"><span style="letter-spacing:-0.29px;left:-0.59px;">APTD118-</span><br><span style="letter-spacing:0.32px;left:0.87px;">1500</span></div>
<div class="c td r1" style="left:288.30px;top:299.50px;width:228.30px"><span style="letter-spacing:0.88px;left:1.64px;">118</span></div>
<div class="c td r1" style="left:516.60px;top:299.50px;width:474.30px"><span style="letter-spacing:-0.38px;left:0.69px;">1350 / 1500</span></div>
<div class="c td r1" style="left:990.90px;top:299.50px;width:298.15px"><span style="letter-spacing:0.38px;left:0.94px;">0,492</span></div>
<div class="c td r1" style="left:1289.05px;top:299.50px;width:276.25px"><span style="letter-spacing:0.43px;left:-0.59px;">0-35</span></div>
<div class="c td r1" style="left:1565.30px;top:277.60px;width:350.20px"><span style="letter-spacing:-0.23px;left:-1.77px;">EPDM-Silikon PTFE-</span><br><span style="letter-spacing:0.44px;left:-0.13px;">TPU</span></div>
<div class="c td r1" style="left:1915.50px;top:299.50px;width:213.20px"><span style="letter-spacing:0.37px;left:-0.30px;">4,71</span></div>
<div class="c td r1" style="left:2128.70px;top:277.60px;width:393.80px"><span style="letter-spacing:-0.13px;left:-0.35px;">DN100, DN150, DN200,</span><br><span style="letter-spacing:-0.22px;left:-0.66px;">DN250</span></div>
<div class="c td r2" style="left:38.15px;top:453.20px;width:250.15px"><span style="letter-spacing:-0.29px;left:-0.59px;">APTD118-</span><br><span style="letter-spacing:0.43px;left:0.92px;">3000</span></div>
<div class="c td r2" style="left:288.30px;top:473.60px;width:228.30px"><span style="letter-spacing:0.88px;left:1.64px;">118</span></div>
<div class="c td r2" style="left:516.60px;top:473.60px;width:474.30px"><span style="letter-spacing:-0.22px;left:0.77px;">2700 / 3000</span></div>
<div class="c td r2" style="left:990.90px;top:473.60px;width:298.15px"><span style="letter-spacing:0.18px;left:0.34px;">0,984</span></div>
<div class="c td r2" style="left:1289.05px;top:473.60px;width:276.25px"><span style="letter-spacing:0.03px;left:-0.87px;">0 - 65</span></div>
<div class="c td r2" style="left:1565.30px;top:453.20px;width:350.20px"><span style="letter-spacing:-0.23px;left:-1.77px;">EPDM-Silikon PTFE-</span><br><span style="letter-spacing:0.44px;left:-0.13px;">TPU</span></div>
<div class="c td r2" style="left:1915.50px;top:473.60px;width:213.20px"><span style="letter-spacing:0.53px;left:0.36px;">9,42</span></div>
<div class="c td r2" style="left:2128.70px;top:453.20px;width:393.80px"><span style="letter-spacing:-0.13px;left:-0.35px;">DN100, DN150, DN200,</span><br><span style="letter-spacing:-0.22px;left:-0.66px;">DN250</span></div>
<script>
(function(){try{var s=document.createElement('span');s.style.cssText='position:absolute;left:-9999px;top:0;visibility:hidden;font-size:40px;white-space:nowrap;font-family:monospace';s.textContent='DN100, DN150 Effective Lenght';document.body.appendChild(s);var a=s.offsetWidth;s.style.fontFamily='"Roboto Condensed",monospace';var b=s.offsetWidth;document.body.removeChild(s);if(a===b){document.body.className+=' nf';}}catch(e){}})();
</script>
</body></html>
